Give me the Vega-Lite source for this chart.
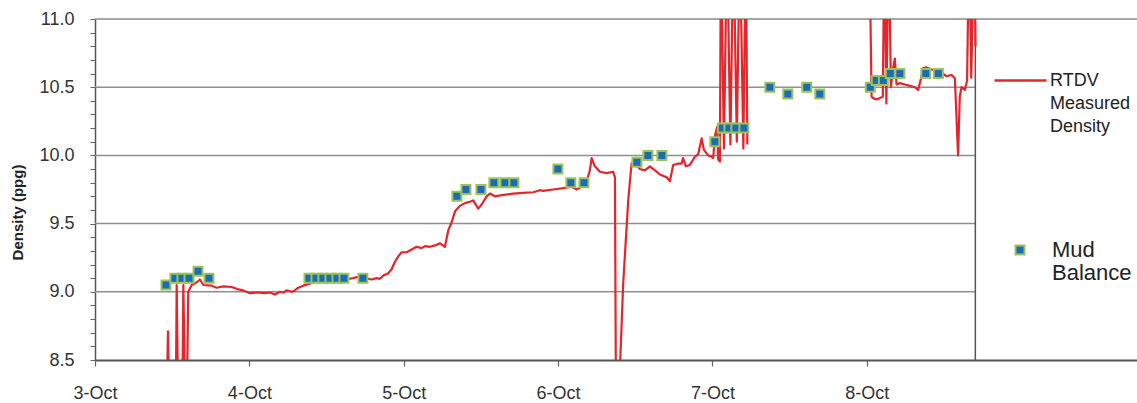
{
  "$schema": "https://vega.github.io/schema/vega-lite/v6.json",
  "width": 1042,
  "height": 341,
  "autosize": {"type": "none"},
  "padding": {"left": 95, "top": 19, "right": 0, "bottom": 43},
  "background": "white",
  "config": {
    "font": "Liberation Sans",
    "view": {"stroke": null},
    "style": {"guide-label": {"lineHeight": 23}}
  },
  "resolve": {"axis": {"y": "independent"}},
  "datasets": {
    "grid": [{"level": 9.0}, {"level": 9.5}, {"level": 10.0}, {"level": 10.5}],
    "rtdv": [
      {"time": "2000-10-03T11:11", "density": 8.3, "run": 1},
      {"time": "2000-10-03T11:21", "density": 8.71, "run": 1},
      {"time": "2000-10-03T11:30", "density": 8.3, "run": 1},
      {"time": "2000-10-03T12:35", "density": 8.3, "run": 1},
      {"time": "2000-10-03T12:42", "density": 9.05, "run": 1},
      {"time": "2000-10-03T12:54", "density": 8.3, "run": 1},
      {"time": "2000-10-03T13:36", "density": 8.3, "run": 1},
      {"time": "2000-10-03T13:44", "density": 9.05, "run": 1},
      {"time": "2000-10-03T13:59", "density": 8.3, "run": 1},
      {"time": "2000-10-03T14:18", "density": 8.3, "run": 1},
      {"time": "2000-10-03T14:30", "density": 9.0, "run": 1},
      {"time": "2000-10-03T15:02", "density": 9.05, "run": 1},
      {"time": "2000-10-03T15:49", "density": 9.07, "run": 1},
      {"time": "2000-10-03T16:19", "density": 9.09, "run": 1},
      {"time": "2000-10-03T16:50", "density": 9.05, "run": 1},
      {"time": "2000-10-03T18:08", "density": 9.045, "run": 1},
      {"time": "2000-10-03T18:55", "density": 9.03, "run": 1},
      {"time": "2000-10-03T19:56", "density": 9.04, "run": 1},
      {"time": "2000-10-03T21:15", "density": 9.035, "run": 1},
      {"time": "2000-10-03T22:07", "density": 9.02, "run": 1},
      {"time": "2000-10-03T23:03", "density": 9.01, "run": 1},
      {"time": "2000-10-04T00:05", "density": 8.99, "run": 1},
      {"time": "2000-10-04T01:08", "density": 8.995, "run": 1},
      {"time": "2000-10-04T02:25", "density": 8.99, "run": 1},
      {"time": "2000-10-04T03:12", "density": 8.995, "run": 1},
      {"time": "2000-10-04T03:59", "density": 8.98, "run": 1},
      {"time": "2000-10-04T04:45", "density": 9.0, "run": 1},
      {"time": "2000-10-04T05:16", "density": 8.995, "run": 1},
      {"time": "2000-10-04T05:48", "density": 9.01, "run": 1},
      {"time": "2000-10-04T06:35", "density": 9.0, "run": 1},
      {"time": "2000-10-04T07:05", "density": 9.01, "run": 1},
      {"time": "2000-10-04T07:36", "density": 9.03, "run": 1},
      {"time": "2000-10-04T08:23", "density": 9.045, "run": 1},
      {"time": "2000-10-04T09:25", "density": 9.06, "run": 1},
      {"time": "2000-10-04T09:56", "density": 9.07, "run": 1},
      {"time": "2000-10-04T12:32", "density": 9.08, "run": 1},
      {"time": "2000-10-04T14:52", "density": 9.09, "run": 1},
      {"time": "2000-10-04T16:09", "density": 9.1, "run": 1},
      {"time": "2000-10-04T16:56", "density": 9.11, "run": 1},
      {"time": "2000-10-04T17:58", "density": 9.1, "run": 1},
      {"time": "2000-10-04T19:01", "density": 9.09, "run": 1},
      {"time": "2000-10-04T19:47", "density": 9.1, "run": 1},
      {"time": "2000-10-04T20:18", "density": 9.095, "run": 1},
      {"time": "2000-10-04T20:49", "density": 9.12, "run": 1},
      {"time": "2000-10-04T21:35", "density": 9.135, "run": 1},
      {"time": "2000-10-04T22:07", "density": 9.165, "run": 1},
      {"time": "2000-10-04T22:38", "density": 9.22, "run": 1},
      {"time": "2000-10-04T23:09", "density": 9.26, "run": 1},
      {"time": "2000-10-04T23:40", "density": 9.29, "run": 1},
      {"time": "2000-10-05T00:27", "density": 9.29, "run": 1},
      {"time": "2000-10-05T01:14", "density": 9.31, "run": 1},
      {"time": "2000-10-05T02:00", "density": 9.33, "run": 1},
      {"time": "2000-10-05T02:47", "density": 9.32, "run": 1},
      {"time": "2000-10-05T03:18", "density": 9.335, "run": 1},
      {"time": "2000-10-05T04:04", "density": 9.33, "run": 1},
      {"time": "2000-10-05T04:51", "density": 9.34, "run": 1},
      {"time": "2000-10-05T05:38", "density": 9.355, "run": 1},
      {"time": "2000-10-05T06:24", "density": 9.33, "run": 1},
      {"time": "2000-10-05T06:55", "density": 9.45, "run": 1},
      {"time": "2000-10-05T07:27", "density": 9.51, "run": 1},
      {"time": "2000-10-05T07:58", "density": 9.59, "run": 1},
      {"time": "2000-10-05T08:44", "density": 9.63, "run": 1},
      {"time": "2000-10-05T09:31", "density": 9.65, "run": 1},
      {"time": "2000-10-05T10:17", "density": 9.66, "run": 1},
      {"time": "2000-10-05T10:48", "density": 9.67, "run": 1},
      {"time": "2000-10-05T11:35", "density": 9.61, "run": 1},
      {"time": "2000-10-05T12:07", "density": 9.64, "run": 1},
      {"time": "2000-10-05T12:53", "density": 9.70, "run": 1},
      {"time": "2000-10-05T13:24", "density": 9.72, "run": 1},
      {"time": "2000-10-05T14:11", "density": 9.70, "run": 1},
      {"time": "2000-10-05T15:28", "density": 9.71, "run": 1},
      {"time": "2000-10-05T17:01", "density": 9.72, "run": 1},
      {"time": "2000-10-05T18:34", "density": 9.725, "run": 1},
      {"time": "2000-10-05T20:08", "density": 9.73, "run": 1},
      {"time": "2000-10-05T21:10", "density": 9.745, "run": 1},
      {"time": "2000-10-05T21:41", "density": 9.74, "run": 1},
      {"time": "2000-10-05T23:14", "density": 9.75, "run": 1},
      {"time": "2000-10-06T00:47", "density": 9.76, "run": 1},
      {"time": "2000-10-06T02:06", "density": 9.77, "run": 1},
      {"time": "2000-10-06T02:52", "density": 9.75, "run": 1},
      {"time": "2000-10-06T03:39", "density": 9.77, "run": 1},
      {"time": "2000-10-06T04:26", "density": 9.81, "run": 1},
      {"time": "2000-10-06T04:56", "density": 9.89, "run": 1},
      {"time": "2000-10-06T05:13", "density": 9.98, "run": 1},
      {"time": "2000-10-06T05:43", "density": 9.92, "run": 1},
      {"time": "2000-10-06T06:30", "density": 9.88, "run": 1},
      {"time": "2000-10-06T07:32", "density": 9.87, "run": 1},
      {"time": "2000-10-06T08:34", "density": 9.88, "run": 1},
      {"time": "2000-10-06T08:50", "density": 9.84, "run": 1},
      {"time": "2000-10-06T08:59", "density": 8.3, "run": 1},
      {"time": "2000-10-06T09:30", "density": 8.3, "run": 1},
      {"time": "2000-10-06T10:07", "density": 9.06, "run": 1},
      {"time": "2000-10-06T10:54", "density": 9.67, "run": 1},
      {"time": "2000-10-06T11:25", "density": 9.94, "run": 1},
      {"time": "2000-10-06T11:56", "density": 9.95, "run": 1},
      {"time": "2000-10-06T12:43", "density": 9.9, "run": 1},
      {"time": "2000-10-06T13:29", "density": 9.89, "run": 1},
      {"time": "2000-10-06T14:16", "density": 9.92, "run": 1},
      {"time": "2000-10-06T15:03", "density": 9.89, "run": 1},
      {"time": "2000-10-06T15:49", "density": 9.86, "run": 1},
      {"time": "2000-10-06T16:52", "density": 9.84, "run": 1},
      {"time": "2000-10-06T17:23", "density": 9.81, "run": 1},
      {"time": "2000-10-06T17:53", "density": 9.93, "run": 1},
      {"time": "2000-10-06T18:40", "density": 9.94, "run": 1},
      {"time": "2000-10-06T19:12", "density": 9.94, "run": 1},
      {"time": "2000-10-06T19:26", "density": 9.98, "run": 1},
      {"time": "2000-10-06T19:52", "density": 9.92, "run": 1},
      {"time": "2000-10-06T20:29", "density": 9.93, "run": 1},
      {"time": "2000-10-06T21:16", "density": 9.99, "run": 1},
      {"time": "2000-10-06T21:47", "density": 10.01, "run": 1},
      {"time": "2000-10-06T22:19", "density": 10.125, "run": 1},
      {"time": "2000-10-06T22:40", "density": 10.04, "run": 1},
      {"time": "2000-10-06T23:20", "density": 10.0, "run": 1},
      {"time": "2000-10-06T23:52", "density": 9.99, "run": 1},
      {"time": "2000-10-07T00:07", "density": 9.98, "run": 1},
      {"time": "2000-10-07T00:22", "density": 10.14, "run": 1},
      {"time": "2000-10-07T00:44", "density": 10.21, "run": 1},
      {"time": "2000-10-07T00:53", "density": 9.97, "run": 1},
      {"time": "2000-10-07T01:09", "density": 9.955, "run": 1},
      {"time": "2000-10-07T01:19", "density": 11.6, "run": 1},
      {"time": "2000-10-07T01:47", "density": 10.05, "run": 1},
      {"time": "2000-10-07T02:15", "density": 11.6, "run": 1},
      {"time": "2000-10-07T02:47", "density": 10.08, "run": 1},
      {"time": "2000-10-07T03:15", "density": 11.6, "run": 1},
      {"time": "2000-10-07T03:47", "density": 10.1, "run": 1},
      {"time": "2000-10-07T04:15", "density": 11.6, "run": 1},
      {"time": "2000-10-07T04:48", "density": 10.05, "run": 1},
      {"time": "2000-10-07T05:11", "density": 11.6, "run": 1},
      {"time": "2000-10-07T05:25", "density": 10.08, "run": 1},
      {"time": "2000-10-08T00:23", "density": 11.6, "run": 2},
      {"time": "2000-10-08T00:44", "density": 10.43, "run": 2},
      {"time": "2000-10-08T00:59", "density": 10.42, "run": 2},
      {"time": "2000-10-08T01:30", "density": 10.41, "run": 2},
      {"time": "2000-10-08T02:01", "density": 10.42, "run": 2},
      {"time": "2000-10-08T02:29", "density": 10.43, "run": 2},
      {"time": "2000-10-08T02:43", "density": 11.6, "run": 2},
      {"time": "2000-10-08T03:02", "density": 10.38, "run": 2},
      {"time": "2000-10-08T03:25", "density": 11.6, "run": 2},
      {"time": "2000-10-08T03:44", "density": 10.5, "run": 2},
      {"time": "2000-10-08T04:05", "density": 10.64, "run": 2},
      {"time": "2000-10-08T04:21", "density": 10.71, "run": 2},
      {"time": "2000-10-08T04:37", "density": 10.52, "run": 2},
      {"time": "2000-10-08T05:08", "density": 10.53, "run": 2},
      {"time": "2000-10-08T05:54", "density": 10.52, "run": 2},
      {"time": "2000-10-08T06:41", "density": 10.51, "run": 2},
      {"time": "2000-10-08T07:28", "density": 10.5, "run": 2},
      {"time": "2000-10-08T07:58", "density": 10.48, "run": 2},
      {"time": "2000-10-08T08:21", "density": 10.55, "run": 2},
      {"time": "2000-10-08T08:45", "density": 10.64, "run": 2},
      {"time": "2000-10-08T09:17", "density": 10.645, "run": 2},
      {"time": "2000-10-08T10:03", "density": 10.63, "run": 2},
      {"time": "2000-10-08T11:02", "density": 10.62, "run": 2},
      {"time": "2000-10-08T11:51", "density": 10.6, "run": 2},
      {"time": "2000-10-08T12:23", "density": 10.58, "run": 2},
      {"time": "2000-10-08T13:10", "density": 10.59, "run": 2},
      {"time": "2000-10-08T13:41", "density": 10.565, "run": 2},
      {"time": "2000-10-08T14:11", "density": 10.0, "run": 2},
      {"time": "2000-10-08T14:27", "density": 10.43, "run": 2},
      {"time": "2000-10-08T14:43", "density": 10.5, "run": 2},
      {"time": "2000-10-08T15:14", "density": 10.48, "run": 2},
      {"time": "2000-10-08T15:35", "density": 10.55, "run": 2},
      {"time": "2000-10-08T15:54", "density": 11.6, "run": 2},
      {"time": "2000-10-08T16:14", "density": 10.57, "run": 2},
      {"time": "2000-10-08T16:41", "density": 11.6, "run": 2},
      {"time": "2000-10-08T16:54", "density": 10.8, "run": 2}
    ],
    "mud": [
      {"time": "2000-10-03T11:02", "density": 9.05},
      {"time": "2000-10-03T12:26", "density": 9.1},
      {"time": "2000-10-03T13:31", "density": 9.1},
      {"time": "2000-10-03T14:37", "density": 9.1},
      {"time": "2000-10-03T16:01", "density": 9.15},
      {"time": "2000-10-03T17:43", "density": 9.1},
      {"time": "2000-10-04T09:16", "density": 9.1},
      {"time": "2000-10-04T10:21", "density": 9.1},
      {"time": "2000-10-04T11:26", "density": 9.1},
      {"time": "2000-10-04T12:32", "density": 9.1},
      {"time": "2000-10-04T13:37", "density": 9.1},
      {"time": "2000-10-04T14:42", "density": 9.1},
      {"time": "2000-10-04T17:39", "density": 9.1},
      {"time": "2000-10-05T08:16", "density": 9.7},
      {"time": "2000-10-05T09:40", "density": 9.75},
      {"time": "2000-10-05T12:00", "density": 9.75},
      {"time": "2000-10-05T14:01", "density": 9.8},
      {"time": "2000-10-05T15:44", "density": 9.8},
      {"time": "2000-10-05T17:08", "density": 9.8},
      {"time": "2000-10-05T23:58", "density": 9.9},
      {"time": "2000-10-06T01:59", "density": 9.8},
      {"time": "2000-10-06T04:01", "density": 9.8},
      {"time": "2000-10-06T12:15", "density": 9.95},
      {"time": "2000-10-06T13:58", "density": 10.0},
      {"time": "2000-10-06T16:08", "density": 10.0},
      {"time": "2000-10-07T00:22", "density": 10.1},
      {"time": "2000-10-07T01:32", "density": 10.2},
      {"time": "2000-10-07T02:33", "density": 10.2},
      {"time": "2000-10-07T03:38", "density": 10.2},
      {"time": "2000-10-07T04:53", "density": 10.2},
      {"time": "2000-10-07T08:55", "density": 10.5},
      {"time": "2000-10-07T11:43", "density": 10.45},
      {"time": "2000-10-07T14:40", "density": 10.5},
      {"time": "2000-10-07T16:41", "density": 10.45},
      {"time": "2000-10-08T00:32", "density": 10.5},
      {"time": "2000-10-08T01:28", "density": 10.55},
      {"time": "2000-10-08T02:34", "density": 10.55},
      {"time": "2000-10-08T03:39", "density": 10.6},
      {"time": "2000-10-08T05:08", "density": 10.6},
      {"time": "2000-10-08T09:10", "density": 10.6},
      {"time": "2000-10-08T11:07", "density": 10.6}
    ]
  },
  "layer": [
    {
      "description": "Horizontal gridlines at each 0.5 ppg, stopping at the end of the record",
      "data": {"name": "grid"},
      "mark": {"type": "rule", "color": "#8f8f8f", "strokeWidth": 1.5},
      "encoding": {
        "y": {"field": "level", "type": "quantitative", "scale": {"domain": [8.5, 11.0], "zero": false, "nice": false}, "axis": null},
        "x": {"datum": {"year": 2000, "month": 10, "date": 3}, "type": "temporal", "scale": {"domain": [{"year": 2000, "month": 10, "date": 3}, {"year": 2000, "month": 10, "date": 9, "hours": 18}], "nice": false}},
        "x2": {"datum": {"year": 2000, "month": 10, "date": 8, "hours": 16, "minutes": 52}}
      }
    },
    {
      "description": "Top frame line at 11.0 ppg",
      "data": {"values": [{}]},
      "mark": {"type": "rule", "color": "#8a8a8a", "strokeWidth": 1.5},
      "encoding": {
        "y": {"datum": 11.0, "type": "quantitative", "axis": null},
        "x": {"datum": {"year": 2000, "month": 10, "date": 3}, "type": "temporal"},
        "x2": {"datum": {"year": 2000, "month": 10, "date": 9, "hours": 18}}
      }
    },
    {
      "description": "End-of-record border",
      "data": {"values": [{}]},
      "mark": {"type": "rule", "color": "#555555", "strokeWidth": 1.5},
      "encoding": {
        "x": {"datum": {"year": 2000, "month": 10, "date": 8, "hours": 16, "minutes": 52}, "type": "temporal"},
        "y": {"datum": 8.5, "type": "quantitative", "axis": null},
        "y2": {"datum": 11.0}
      }
    },
    {
      "description": "RTDV measured density trace",
      "data": {"name": "rtdv"},
      "mark": {"type": "line", "clip": true, "strokeWidth": 2.2, "strokeJoin": "round"},
      "encoding": {
        "x": {
          "field": "time", "type": "temporal",
          "axis": {
            "title": null,
            "values": [
              {"year": 2000, "month": 10, "date": 3},
              {"year": 2000, "month": 10, "date": 4},
              {"year": 2000, "month": 10, "date": 5},
              {"year": 2000, "month": 10, "date": 6},
              {"year": 2000, "month": 10, "date": 7},
              {"year": 2000, "month": 10, "date": 8}
            ],
            "format": "%-d-%b",
            "grid": false,
            "domainColor": "#555555", "domainWidth": 2,
            "tickColor": "#666666", "tickSize": 6, "tickWidth": 1.2,
            "labelPadding": 18, "labelFontSize": 18, "labelColor": "#333333",
            "labelFlush": false, "labelOverlap": false
          }
        },
        "y": {
          "field": "density", "type": "quantitative",
          "axis": {
            "orient": "left",
            "title": "Density (ppg)",
            "values": [8.5, 9.0, 9.5, 10.0, 10.5, 11.0],
            "format": ".1f",
            "grid": false,
            "domainColor": "#555555", "domainWidth": 1.5,
            "tickColor": "#666666", "tickSize": 5, "tickWidth": 1,
            "labelPadding": 16, "labelFontSize": 18, "labelColor": "#333333",
            "labelOverlap": false, "labelFlush": false,
            "titleFontSize": 15, "titleFontWeight": "bold", "titleColor": "#222222",
            "titleAngle": -90, "titleAlign": "center", "titleBaseline": "middle",
            "titleX": -78, "titleY": 193
          }
        },
        "detail": {"field": "run", "type": "nominal"},
        "stroke": {
          "datum": "RTDV Measured Density",
          "scale": {"range": ["#e3262b"]},
          "legend": {
            "orient": "none", "legendX": 898, "legendY": 34,
            "title": null, "padding": 0,
            "symbolType": "stroke", "symbolSize": 2704, "symbolStrokeWidth": 2.5,
            "labelFontSize": 18, "labelColor": "#222222", "labelOffset": 2, "labelLimit": 300,
            "labelExpr": "split(datum.label, ' ')"
          }
        }
      }
    },
    {
      "description": "Mud balance readings; its y axis carries the 0.1 ppg minor ticks",
      "data": {"name": "mud"},
      "mark": {"type": "square", "size": 81, "opacity": 1, "stroke": "#9cc35a", "strokeWidth": 2},
      "encoding": {
        "x": {"field": "time", "type": "temporal"},
        "y": {
          "field": "density", "type": "quantitative",
          "axis": {
            "orient": "left",
            "title": null,
            "values": [8.6, 8.7, 8.8, 8.9, 9.1, 9.2, 9.3, 9.4, 9.6, 9.7, 9.8, 9.9, 10.1, 10.2, 10.3, 10.4, 10.6, 10.7, 10.8, 10.9],
            "labels": false,
            "grid": false,
            "domain": false,
            "tickColor": "#666666", "tickSize": 5, "tickWidth": 1
          }
        },
        "fill": {
          "datum": "Mud Balance",
          "scale": {"range": ["#1a6db5"]},
          "legend": {
            "orient": "none", "legendX": 914, "legendY": 220,
            "title": null, "padding": 0,
            "symbolType": "square", "symbolSize": 81, "symbolStrokeColor": "#9cc35a", "symbolStrokeWidth": 2,
            "labelFontSize": 22, "labelColor": "#222222", "labelOffset": 21, "labelLimit": 300,
            "labelExpr": "split(datum.label, ' ')"
          }
        }
      }
    }
  ]
}
